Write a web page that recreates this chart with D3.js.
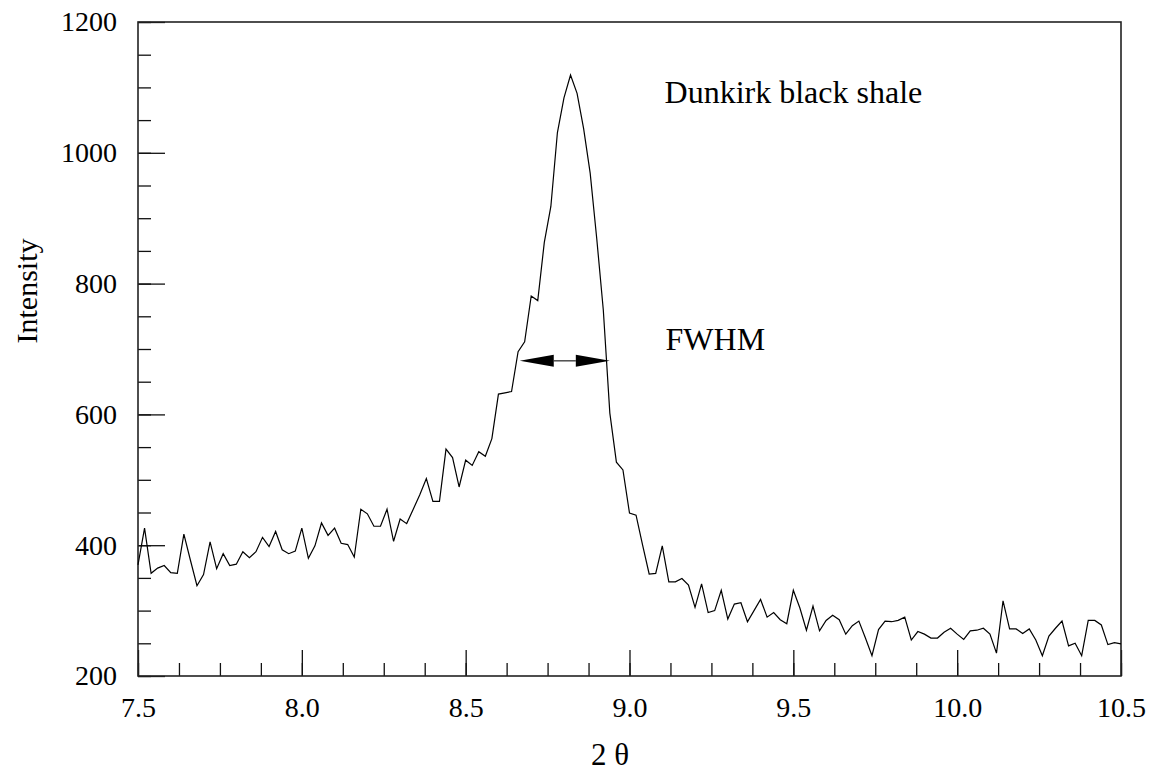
<!DOCTYPE html>
<html>
<head>
<meta charset="utf-8">
<script src="https://cdn.jsdelivr.net/npm/d3@7"></script>
<style>
  body { margin: 0; background: #fff; }
</style>
</head>
<body>
<svg id="chart"></svg>
<script>
// 2 theta from 7.5 to 10.5 in steps of 0.02
const thetaStart = 7.5;
const thetaStep = 0.02;
const intensity = [
  370, 426, 357, 365, 369, 358, 357, 417, 377, 338,
  355, 405, 364, 387, 369, 371, 390, 381, 390, 412,
  398, 421, 393, 387, 391, 426, 380, 399, 434, 415,
  426, 403, 401, 382, 455, 448, 429, 429, 455, 406,
  440, 433, 455, 477, 502, 467, 467, 547, 534, 489,
  530, 522, 543, 536, 563, 631, 633, 635, 696, 711,
  781, 774, 863, 918, 1031, 1084, 1119, 1091, 1037, 969,
  869, 760, 602, 527, 515, 449, 446, 400, 356, 357,
  399, 344, 344, 349, 339, 305, 341, 297, 300, 331,
  287, 310, 312, 283, 300, 317, 290, 297, 286, 280,
  331, 304, 270, 307, 269, 285, 293, 286, 264, 277,
  284, 258, 231, 271, 284, 283, 285, 290, 255, 268,
  264, 258, 258, 267, 273, 264, 256, 269, 270, 273,
  264, 235, 315, 272, 272, 265, 272, 255, 231, 261,
  273, 284, 246, 250, 231, 285, 285, 278, 248, 251,
  249
];
const xTicks = [7.5, 8.0, 8.5, 9.0, 9.5, 10.0, 10.5];
const yTicks = [200, 400, 600, 800, 1000, 1200];
const fwhm = [8.665, 8.94, 682];   // from, to, level
const notes = [
  { text: "Dunkirk black shale", x: 9.107, y: 1076 },
  { text: "FWHM", x: 9.11, y: 698 }
];

const width = 1153, height = 774;
const margin = { top: 22, right: 32, bottom: 98, left: 138 };
const serif = '"Liberation Serif", "Times New Roman", serif';

const svg = d3.select('#chart').attr('width', width).attr('height', height);

const x = d3.scaleLinear().domain([7.5, 10.5]).range([margin.left, width - margin.right]);
const y = d3.scaleLinear().domain([200, 1200]).range([height - margin.bottom, margin.top]);

const points = intensity.map((v, i) => [thetaStart + i * thetaStep, v]);

// minor ticks first, then major ticks with labels
const xMinor = d3.range(7.5, 10.5001, 0.125);
const yMinor = d3.range(200, 1200.001, 50);

svg.append('g')
  .attr('transform', 'translate(0,' + y.range()[0] + ')')
  .call(d3.axisBottom(x).tickValues(xMinor).tickSizeInner(-13).tickSizeOuter(0).tickFormat(''))
  .call(g => g.select('.domain').remove())
  .call(g => g.selectAll('line').attr('stroke', '#111').attr('stroke-width', 1.3));

svg.append('g')
  .attr('transform', 'translate(0,' + y.range()[0] + ')')
  .call(d3.axisBottom(x).tickValues(xTicks).tickSizeInner(-26).tickSizeOuter(0).tickPadding(21).tickFormat(d3.format('.1f')))
  .call(g => g.attr('font-family', serif).attr('font-size', 28))
  .call(g => g.select('.domain').remove())
  .call(g => g.selectAll('line').attr('stroke', '#111').attr('stroke-width', 1.3));

svg.append('g')
  .attr('transform', 'translate(' + x.range()[0] + ',0)')
  .call(d3.axisLeft(y).tickValues(yMinor).tickSizeInner(-13).tickSizeOuter(0).tickFormat(''))
  .call(g => g.select('.domain').remove())
  .call(g => g.selectAll('line').attr('stroke', '#111').attr('stroke-width', 1.3));

svg.append('g')
  .attr('transform', 'translate(' + x.range()[0] + ',0)')
  .call(d3.axisLeft(y).tickValues(yTicks).tickSizeInner(-27).tickSizeOuter(0).tickPadding(21).tickFormat(d3.format('d')))
  .call(g => g.attr('font-family', serif).attr('font-size', 28))
  .call(g => g.select('.domain').remove())
  .call(g => g.selectAll('line').attr('stroke', '#111').attr('stroke-width', 1.3));

// frame
svg.append('rect')
  .attr('x', x.range()[0]).attr('y', y.range()[1])
  .attr('width', x.range()[1] - x.range()[0])
  .attr('height', y.range()[0] - y.range()[1])
  .attr('fill', 'none').attr('stroke', '#222').attr('stroke-width', 1.6);

// data line
svg.append('path')
  .datum(points)
  .attr('fill', 'none')
  .attr('stroke', '#000')
  .attr('stroke-width', 1.2)
  .attr('d', d3.line().x(d => x(d[0])).y(d => y(d[1])));

// FWHM arrow
const ax0 = x(fwhm[0]), ax1 = x(fwhm[1]), ay = y(fwhm[2]);
const headLen = 34, headW = 6;
svg.append('line')
  .attr('x1', ax0 + headLen).attr('x2', ax1 - headLen)
  .attr('y1', ay).attr('y2', ay)
  .attr('stroke', '#555').attr('stroke-width', 1.6);
svg.append('path')
  .attr('d', `M${ax0},${ay} L${ax0 + headLen},${ay - headW} L${ax0 + headLen},${ay + headW} Z`)
  .attr('fill', '#000');
svg.append('path')
  .attr('d', `M${ax1},${ay} L${ax1 - headLen},${ay - headW} L${ax1 - headLen},${ay + headW} Z`)
  .attr('fill', '#000');

// annotations
svg.selectAll('.note').data(notes).enter()
  .append('text')
  .attr('class', 'note')
  .attr('x', d => x(d.x))
  .attr('y', d => y(d.y))
  .attr('font-family', serif)
  .attr('font-size', 32)
  .text(d => d.text);

// axis titles
svg.append('text')
  .attr('x', 610).attr('y', 765)
  .attr('text-anchor', 'middle')
  .attr('font-family', serif)
  .attr('font-size', 31)
  .text('2 θ');

svg.append('text')
  .attr('transform', 'translate(37,291) rotate(-90)')
  .attr('text-anchor', 'middle')
  .attr('font-family', serif)
  .attr('font-size', 30)
  .text('Intensity');
</script>
</body>
</html>
